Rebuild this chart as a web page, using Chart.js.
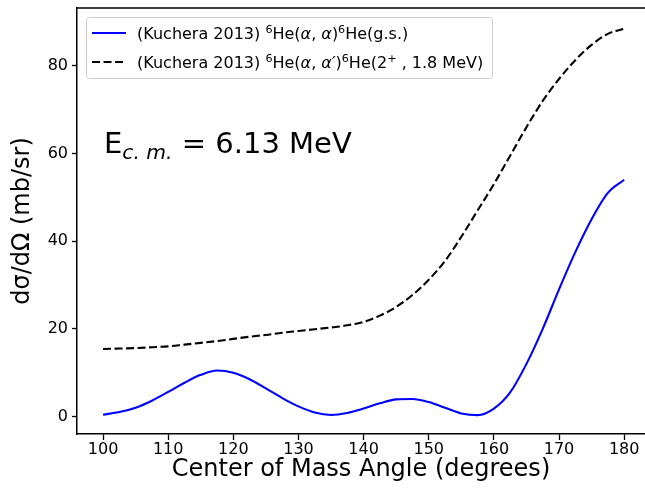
<!DOCTYPE html>
<html>
<head>
<meta charset="utf-8">
<script src="https://cdn.jsdelivr.net/npm/chart.js@4"></script>
<style>
  html, body { margin: 0; padding: 0; background: #fff; }
  #wrap { width: 645px; height: 495px; }
</style>
</head>
<body>
<div id="wrap"><canvas id="xsec"></canvas></div>
<script>
// angles (degrees, c.m.)
const angles = [100, 102.5, 105, 107.5, 110, 112.5, 115, 117.5, 120, 122.5, 125, 127.5, 130, 132.5, 135, 137.5, 140,
  142.5, 145, 147.5, 150, 152.5, 155, 157.5, 160, 162.5, 165, 167.5, 170, 172.5, 175, 177.5, 180];
// 6He(a,a)6He g.s.
const gsValues = [0.4, 1.0, 2.0, 3.6, 5.6, 7.7, 9.5, 10.5, 10.0, 8.5, 6.4, 4.2, 2.3, 0.9, 0.35, 0.8, 1.8,
  3.0, 3.9, 4.0, 3.3, 2.0, 0.7, 0.3, 1.8, 5.5, 12.0, 20.0, 29.0, 37.5, 45.0, 51.0, 54.0];
// 6He(a,a')6He 2+ 1.8 MeV
const exValues = [15.4, 15.5, 15.6, 15.8, 16.0, 16.4, 16.8, 17.2, 17.7, 18.2, 18.6, 19.1, 19.5, 19.9, 20.3, 20.8, 21.6,
  23.0, 25.0, 27.7, 31.2, 35.5, 41.0, 47.0, 53.0, 59.5, 66.0, 72.0, 77.0, 81.3, 84.8, 87.3, 88.5];
const xTicks = [100, 110, 120, 130, 140, 150, 160, 170, 180];
const yTicks = [0, 20, 40, 60, 80];

const FONT = "'DejaVu Sans', sans-serif";

function pts(xs, ys) {
  return xs.map((x, i) => ({ x: x, y: ys[i] }));
}

// draw a list of [text, kind] pieces; kind: n normal, i italic, sup, sub
function drawRich(ctx, x, y, pieces, size) {
  ctx.textBaseline = "alphabetic";
  ctx.textAlign = "left";
  for (const [txt, kind] of pieces) {
    let s = size, dy = 0, style = "";
    if (kind === "i") style = "italic ";
    if (kind === "sup") { s = size * 0.7; dy = -size * 0.36; }
    if (kind === "sub") { s = size * 0.7; dy = size * 0.2; style = "italic "; }
    ctx.font = style + s + "px " + FONT;
    ctx.fillText(txt, x, y + dy);
    x += ctx.measureText(txt).width;
  }
  return x;
}

function noPad(s) {
  s.paddingTop = 0; s.paddingBottom = 0; s.paddingLeft = 0; s.paddingRight = 0;
}

const extras = {
  id: "extras",
  afterDraw(chart) {
    const ctx = chart.ctx;
    const a = chart.chartArea;
    ctx.save();
    // top spine
    ctx.strokeStyle = "#000";
    ctx.lineWidth = 1.5;
    ctx.beginPath();
    ctx.moveTo(a.left, a.top);
    ctx.lineTo(chart.width, a.top);
    ctx.stroke();

    // legend
    const lx = 86, ly = 17, lw = 406, lh = 61, r = 3;
    ctx.fillStyle = "rgba(255,255,255,0.8)";
    ctx.strokeStyle = "#cccccc";
    ctx.lineWidth = 1;
    ctx.beginPath();
    ctx.roundRect(lx + 0.5, ly + 0.5, lw, lh, r);
    ctx.fill();
    ctx.stroke();

    const rows = [
      { y: 33, color: "#0000ff", dash: [], pieces: [["(Kuchera 2013) ", "n"], ["6", "sup"], ["He(", "n"], ["α", "i"], [", ", "n"],
        ["α", "i"], [")", "n"], ["6", "sup"], ["He(g.s.)", "n"]] },
      { y: 62, color: "#000000", dash: [8, 3.5], pieces: [["(Kuchera 2013) ", "n"], ["6", "sup"], ["He(", "n"], ["α", "i"], [", ", "n"],
        ["α′", "i"], [")", "n"], ["6", "sup"], ["He(2", "n"], ["+", "sup"], [" , 1.8 MeV)", "n"]] }
    ];
    for (const row of rows) {
      ctx.strokeStyle = row.color;
      ctx.lineWidth = 2.1;
      ctx.setLineDash(row.dash);
      ctx.beginPath();
      ctx.moveTo(92, row.y);
      ctx.lineTo(126, row.y);
      ctx.stroke();
      ctx.setLineDash([]);
      ctx.fillStyle = "#000";
      drawRich(ctx, 137, row.y + 6, row.pieces, 16);
    }

    // energy label
    ctx.fillStyle = "#000";
    drawRich(ctx, 104, 153, [["E", "n"], ["c. m.", "sub"], [" = 6.13 MeV", "n"]], 29);
    ctx.restore();
  }
};

new Chart(document.getElementById("xsec"), {
  type: "line",
  data: {
    datasets: [
      {
        label: "(Kuchera 2013) 6He(α, α)6He(g.s.)",
        data: pts(angles, gsValues),
        borderColor: "#0000ff",
        borderWidth: 2.1,
        pointRadius: 0,
        cubicInterpolationMode: "monotone",
        fill: false
      },
      {
        label: "(Kuchera 2013) 6He(α, α')6He(2+, 1.8 MeV)",
        data: pts(angles, exValues),
        borderColor: "#000000",
        borderWidth: 2.1,
        borderDash: [8, 3.5],
        pointRadius: 0,
        cubicInterpolationMode: "monotone",
        fill: false
      }
    ]
  },
  options: {
    responsive: true,
    maintainAspectRatio: false,
    animation: false,
    layout: { padding: { top: 8, right: 0, left: 0, bottom: 0 } },
    plugins: {
      legend: { display: false },
      tooltip: { enabled: false }
    },
    scales: {
      x: {
        type: "linear",
        min: 96,
        max: 183.2,
        afterBuildTicks: (s) => { s.ticks = xTicks.map(v => ({ value: v })); },
        afterFit: (s) => { s.height = 61; noPad(s); },
        border: { display: true, color: "#000", width: 1.5 },
        grid: { drawOnChartArea: false, drawTicks: true, tickLength: 6, tickColor: "#000", tickWidth: 1.3 },
        ticks: { color: "#000", font: { family: FONT, size: 16 }, padding: 0, maxRotation: 0 },
        title: {
          display: true,
          text: "Center of Mass Angle (degrees)",
          color: "#000",
          font: { family: FONT, size: 24 },
          padding: { top: 0, bottom: 11 }
        }
      },
      y: {
        type: "linear",
        min: -4.0,
        max: 93.2,
        afterBuildTicks: (s) => { s.ticks = yTicks.map(v => ({ value: v })); },
        afterFit: (s) => { s.width = 77; noPad(s); },
        border: { display: true, color: "#000", width: 1.5 },
        grid: { drawOnChartArea: false, drawTicks: true, tickLength: 5, tickColor: "#000", tickWidth: 1.3 },
        ticks: { color: "#000", font: { family: FONT, size: 16 }, padding: 4 },
        title: {
          display: true,
          text: "dσ/dΩ (mb/sr)",
          color: "#000",
          font: { family: FONT, size: 24 },
          padding: { top: 8, bottom: 0 }
        }
      }
    }
  },
  plugins: [extras]
});
</script>
</body>
</html>
